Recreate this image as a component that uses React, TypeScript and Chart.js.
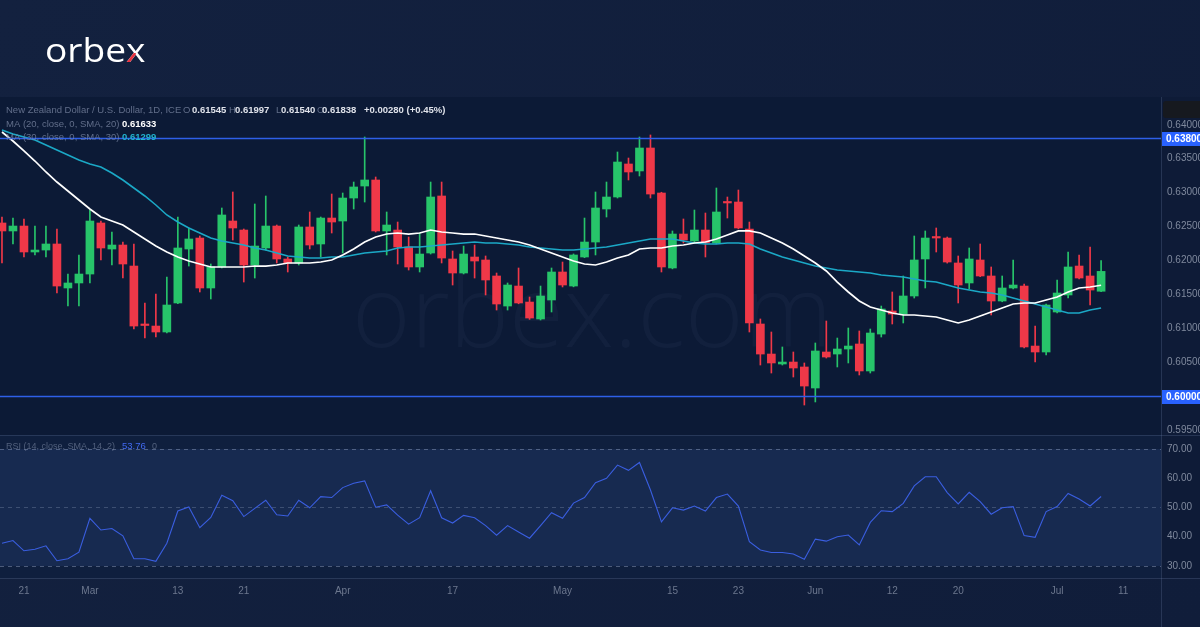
import React, { useEffect, useRef } from "react";
import { Chart, registerables } from "chart.js";

Chart.register(...registerables);

// ---------- DATA (NZD/USD daily, ~17 Feb – 7 Jul 2023) ----------
const opens = [
  0.62552, 0.62434, 0.62507, 0.62124, 0.62153, 0.62242, 0.61593, 0.61667, 0.61799, 0.62552,
  0.62168, 0.62227, 0.61917, 0.61062, 0.61032, 0.60944, 0.61372, 0.62168, 0.6233, 0.61593,
  0.61903, 0.62581, 0.62448, 0.61932, 0.62183, 0.62507, 0.62021, 0.61962, 0.62493, 0.62242,
  0.62625, 0.62581, 0.6292, 0.63097, 0.63186, 0.62434, 0.62448, 0.62198, 0.61903, 0.62109,
  0.6295, 0.62021, 0.61814, 0.6205, 0.62006, 0.6177, 0.61327, 0.61622, 0.61386, 0.61136,
  0.61416, 0.61829, 0.61622, 0.6205, 0.62271, 0.62758, 0.62935, 0.63422, 0.63319, 0.63658,
  0.62994, 0.61888, 0.62389, 0.62286, 0.62448, 0.62257, 0.62861, 0.62861, 0.62463, 0.61062,
  0.60619, 0.60472, 0.60501, 0.60428, 0.60118, 0.60649, 0.60619, 0.60693, 0.60767, 0.60369,
  0.60914, 0.61254, 0.61209, 0.61475, 0.62021, 0.62345, 0.6233, 0.61962, 0.61667, 0.62006,
  0.6177, 0.61401, 0.61593, 0.61622, 0.60737, 0.60649, 0.61239, 0.6149, 0.61917, 0.6177,
  0.61545,
];
const highs = [
  0.6264, 0.62625, 0.62611, 0.62507, 0.62507, 0.62463, 0.61799, 0.6208, 0.62743, 0.62581,
  0.62419, 0.62271, 0.62242, 0.61372, 0.61504, 0.61755, 0.6264, 0.62478, 0.6236, 0.61947,
  0.62773, 0.63009, 0.62463, 0.62832, 0.6295, 0.62522, 0.6205, 0.62522, 0.62714, 0.6264,
  0.62979, 0.62994, 0.63156, 0.6382, 0.6323, 0.62714, 0.62566, 0.62345, 0.62404, 0.63156,
  0.63156, 0.62139, 0.62212, 0.62227, 0.62065, 0.61814, 0.61667, 0.61888, 0.6146, 0.61622,
  0.61888, 0.61976, 0.62095, 0.62625, 0.63009, 0.63156, 0.63599, 0.6351, 0.6382, 0.6385,
  0.63005, 0.62434, 0.62611, 0.62743, 0.62699, 0.63068, 0.62935, 0.63038, 0.62566, 0.61136,
  0.60944, 0.60723, 0.60649, 0.60487, 0.60782, 0.61106, 0.60855, 0.61003, 0.60959, 0.60988,
  0.61327, 0.61534, 0.6177, 0.6236, 0.62434, 0.62478, 0.62345, 0.62065, 0.62183, 0.62242,
  0.61903, 0.6177, 0.62006, 0.61652, 0.61032, 0.61355, 0.61711, 0.62124, 0.6208, 0.62198,
  0.61997,
];
const lows = [
  0.61962, 0.62242, 0.6205, 0.6208, 0.6205, 0.61519, 0.61327, 0.61327, 0.61667, 0.62006,
  0.61932, 0.6174, 0.60988, 0.60855, 0.6087, 0.60929, 0.6136, 0.61917, 0.61534, 0.61431,
  0.61888, 0.62301, 0.61681, 0.6174, 0.62153, 0.61962, 0.61829, 0.61932, 0.62168, 0.6205,
  0.62404, 0.62109, 0.62758, 0.62861, 0.62419, 0.6208, 0.61947, 0.61858, 0.61829, 0.62094,
  0.61962, 0.61637, 0.618, 0.6174, 0.6149, 0.61268, 0.61268, 0.6136, 0.6113, 0.61121,
  0.61239, 0.61608, 0.6161, 0.6204, 0.6208, 0.6264, 0.6292, 0.63186, 0.63245, 0.6292,
  0.61829, 0.61875, 0.62257, 0.62257, 0.6205, 0.62245, 0.62625, 0.62465, 0.60944, 0.60457,
  0.60339, 0.60457, 0.6028, 0.59867, 0.59912, 0.6056, 0.60428, 0.60487, 0.6031, 0.60339,
  0.6087, 0.61062, 0.61077, 0.61445, 0.61593, 0.62124, 0.6196, 0.61372, 0.61578, 0.6176,
  0.61195, 0.6139, 0.6158, 0.60708, 0.60501, 0.60605, 0.61225, 0.61445, 0.61725, 0.61342,
  0.6154,
];
const closes = [
  0.62434, 0.62507, 0.62124, 0.62153, 0.62242, 0.61622, 0.61667, 0.61799, 0.62581, 0.62183,
  0.62227, 0.61947, 0.61032, 0.6104, 0.60944, 0.61342, 0.62183, 0.62316, 0.61593, 0.61903,
  0.6267, 0.62478, 0.61932, 0.62212, 0.62507, 0.62021, 0.61962, 0.62493, 0.62227, 0.62625,
  0.62566, 0.6292, 0.63083, 0.63186, 0.62434, 0.62522, 0.62198, 0.61903, 0.62094, 0.62935,
  0.62035, 0.61814, 0.62094, 0.61991, 0.61711, 0.61357, 0.61637, 0.61372, 0.6115, 0.61475,
  0.61829, 0.61637, 0.6208, 0.62271, 0.62773, 0.62935, 0.63451, 0.63304, 0.63658, 0.62979,
  0.61903, 0.62389, 0.62301, 0.62448, 0.62257, 0.62714, 0.62847, 0.62478, 0.61077, 0.60619,
  0.60487, 0.60501, 0.60413, 0.60147, 0.60664, 0.60575, 0.60693, 0.60737, 0.60369, 0.60929,
  0.61283, 0.61209, 0.61475, 0.62006, 0.6233, 0.6233, 0.61976, 0.61637, 0.62021, 0.6177,
  0.61401, 0.61593, 0.61637, 0.60723, 0.60649, 0.61342, 0.61519, 0.61903, 0.6174, 0.61563,
  0.61838,
];
const ma20 = [
  0.63894, 0.63761, 0.63614, 0.63466, 0.63304, 0.63156, 0.63024, 0.62891, 0.62758, 0.6264,
  0.62581, 0.62522, 0.62419, 0.62316, 0.62212, 0.62124, 0.6205, 0.61991, 0.61947, 0.61903,
  0.61903, 0.61903, 0.61903, 0.61917, 0.61917, 0.61932, 0.61962, 0.61962, 0.61962, 0.61976,
  0.62006, 0.6208, 0.62168, 0.62271, 0.62345, 0.62389, 0.62404, 0.62389, 0.62404, 0.62448,
  0.62419, 0.62404, 0.62389, 0.62389, 0.6236, 0.6233, 0.62301, 0.62271, 0.62227, 0.62168,
  0.62109, 0.6205, 0.61991, 0.61947, 0.61932, 0.61976, 0.62035, 0.6208, 0.62168, 0.62183,
  0.62183, 0.62212, 0.62227, 0.62257, 0.62271, 0.62316, 0.62375, 0.62434, 0.62434, 0.62404,
  0.6233, 0.62257, 0.62168, 0.62065, 0.61962, 0.61844, 0.61681, 0.61534, 0.61401, 0.61313,
  0.61268, 0.61224, 0.61195, 0.61195, 0.6118, 0.61165, 0.61121, 0.61077, 0.61121, 0.6118,
  0.61239, 0.61298, 0.61357, 0.61372, 0.61372, 0.61416, 0.6146, 0.61534, 0.61593, 0.61608,
  0.61633,
];
const ma30 = [
  0.63923, 0.63864, 0.6382, 0.63776, 0.63702, 0.63628, 0.63554, 0.63481, 0.63422, 0.63378,
  0.63289, 0.63186, 0.63068, 0.6295, 0.62817, 0.6267, 0.62566, 0.62478, 0.62404, 0.6233,
  0.62286, 0.62257, 0.62227, 0.62183, 0.62153, 0.62109, 0.62065, 0.6205, 0.62035, 0.62035,
  0.6205, 0.6205, 0.6208, 0.62109, 0.62124, 0.62139, 0.62183, 0.62198, 0.62198, 0.62212,
  0.62227, 0.62242, 0.62257, 0.62271, 0.62257, 0.62257, 0.62242, 0.62227, 0.62198, 0.62183,
  0.62168, 0.62153, 0.62153, 0.62168, 0.62183, 0.62198, 0.62227, 0.62257, 0.62286, 0.62316,
  0.62316, 0.62316, 0.62286, 0.62257, 0.62242, 0.62242, 0.62257, 0.62257, 0.62242, 0.62168,
  0.62109, 0.6205, 0.62006, 0.61962, 0.61917, 0.61888, 0.61858, 0.61844, 0.61829, 0.61814,
  0.61785, 0.6177, 0.61755, 0.61726, 0.61696, 0.61681, 0.61637, 0.61593, 0.61563, 0.61534,
  0.61519, 0.6149, 0.61445, 0.61401, 0.61357, 0.61313, 0.61268, 0.61224, 0.61224, 0.61268,
  0.61299,
];
const rsi = [
  37.8, 38.7, 35.2, 35.7, 36.9, 31.8, 32.5, 34.7, 46.3, 42.3,
  42.8, 40.3, 32.5, 32.5, 31.6, 37.8, 48.8, 50.2, 43.1, 46.6,
  54.2, 52.3, 46.9, 49.7, 52.5, 47.5, 47.1, 52.5, 49.9, 53.7,
  53.4, 56.8, 58.3, 59.1, 50.1, 50.9, 47.4, 44.3, 46.5, 55.7,
  46.5, 44.7, 47.3, 46.5, 43.8, 40.5, 43.8, 41.6, 39.5, 43.8,
  48.2, 46.3, 51.5, 53.4, 58.5, 60.0, 64.5, 62.7, 65.4, 56.0,
  45.1, 49.9, 49.1, 50.5, 48.8, 53.4, 54.6, 50.5, 38.3, 35.5,
  34.6, 34.6, 34.1, 32.3, 39.2, 38.5, 40.0, 40.6, 37.2, 44.9,
  48.9, 48.6, 51.4, 57.4, 60.5, 60.5, 55.1, 51.2, 55.2, 52.0,
  47.7, 49.9, 50.3, 40.4, 39.8, 48.6, 50.3, 54.8, 52.9, 50.5,
  53.76,
];
const levelValues = [0.638, 0.6];
const priceTicks = [0.595, 0.6, 0.605, 0.61, 0.615, 0.62, 0.625, 0.63, 0.635, 0.64];
const rsiTicks = [30, 40, 50, 60, 70];
const rsiGuides = [70, 50, 30];
const timeTickIdx = [2, 8, 16, 22, 31, 41, 51, 61, 67, 74, 81, 87, 96, 102];
const timeTickLabels = ["21", "Mar", "13", "21", "Apr", "17", "May", "15", "23", "Jun", "12", "20", "Jul", "11"];

const headerTitle = "New Zealand Dollar / U.S. Dollar, 1D, ICE";
const headerChange = "+0.00280 (+0.45%)";
const ma20Label = "MA (20, close, 0, SMA, 20)";
const ma30Label = "MA (30, close, 0, SMA, 30)";
const rsiLabel = "RSI (14, close, SMA, 14, 2)";

// ---------- STYLE ----------
const GREEN = "#27c46a";
const RED = "#ef3848";
const FONT = '"Liberation Sans", Arial, sans-serif';
const LOGO_FONT = '"Open Sans", "Noto Sans", sans-serif';

const bgPlugin = {
  id: "bgPanes",
  beforeDraw(chart: any) {
    const { ctx, chartArea, scales } = chart;
    const { y, y2 } = scales;
    const W = chart.width;
    const H = chart.height;
    ctx.save();
    const g = ctx.createLinearGradient(0, 0, W, H);
    g.addColorStop(0, "#13213f");
    g.addColorStop(1, "#101d3a");
    ctx.fillStyle = g;
    ctx.fillRect(0, 0, W, H);
    // price pane
    ctx.fillStyle = "#0c1a36";
    ctx.fillRect(chartArea.left, y.top, chartArea.right - chartArea.left, y.bottom - y.top);
    // rsi pane
    ctx.fillStyle = "#0f1f3e";
    ctx.fillRect(chartArea.left, y2.top, chartArea.right - chartArea.left, y2.bottom - y2.top);
    const p70 = y2.getPixelForValue(70);
    const p30 = y2.getPixelForValue(30);
    ctx.fillStyle = "#172a50";
    ctx.fillRect(chartArea.left, p70, chartArea.right - chartArea.left, p30 - p70);
    // right axis column
    ctx.fillStyle = "#0e1b37";
    ctx.fillRect(chartArea.right, y.top, W - chartArea.right, y2.bottom - y.top);
    // dark box at top of price scale
    ctx.fillStyle = "#16191f";
    ctx.beginPath();
    (ctx as any).roundRect(chartArea.right + 2, y.top + 4, W - chartArea.right, 17, 3);
    ctx.fill();
    // separators
    ctx.strokeStyle = "rgba(110,130,170,0.25)";
    ctx.lineWidth = 1;
    ctx.beginPath();
    ctx.moveTo(0, Math.round(y.bottom) + 0.5);
    ctx.lineTo(W, Math.round(y.bottom) + 0.5);
    ctx.moveTo(0, Math.round(y2.bottom) + 0.5);
    ctx.lineTo(W, Math.round(y2.bottom) + 0.5);
    ctx.moveTo(Math.round(chartArea.right) + 0.5, y.top);
    ctx.lineTo(Math.round(chartArea.right) + 0.5, H);
    ctx.stroke();
    // logo
    ctx.save();
    ctx.translate(45, 62);
    ctx.scale(1.16, 1);
    ctx.font = `400 32px ${LOGO_FONT}`;
    ctx.textBaseline = "alphabetic";
    ctx.textAlign = "left";
    ctx.fillStyle = "#ffffff";
    ctx.fillText("orbe", 0, 0);
    const wOrbe = ctx.measureText("orbe").width;
    const xw = ctx.measureText("x").width;
    ctx.fillText("x", wOrbe, 0);
    ctx.beginPath();
    ctx.rect(wOrbe - 2, -9, xw / 2 + 2, 12);
    ctx.clip();
    ctx.fillStyle = "#e8323f";
    ctx.fillText("x", wOrbe, 0);
    ctx.restore();
    ctx.restore();
  },
  beforeDatasetsDraw(chart: any) {
    const { ctx, chartArea, scales } = chart;
    const { y, y2 } = scales;
    ctx.save();
    ctx.beginPath();
    ctx.rect(chartArea.left, y.top, chartArea.right - chartArea.left, y.bottom - y.top);
    ctx.clip();
    ctx.font = `300 100px ${LOGO_FONT}`;
    ctx.fillStyle = "rgba(160,180,230,0.045)";
    ctx.textBaseline = "alphabetic";
    ctx.fillText("orbex.com", 352, 347);
    ctx.restore();
    ctx.save();
    ctx.setLineDash([4, 4]);
    ctx.lineWidth = 1;
    rsiGuides.forEach((v) => {
      const py = Math.round(y2.getPixelForValue(v)) + 0.5;
      ctx.strokeStyle = v === 50 ? "rgba(150,165,195,0.30)" : "rgba(150,165,195,0.45)";
      ctx.beginPath();
      ctx.moveTo(chartArea.left, py);
      ctx.lineTo(chartArea.right, py);
      ctx.stroke();
    });
    ctx.restore();
  },
  afterDatasetsDraw(chart: any) {
    const { ctx, chartArea, scales } = chart;
    const { y } = scales;
    const W = chart.width;
    ctx.save();
    levelValues.forEach((v) => {
      const py = Math.round(y.getPixelForValue(v));
      ctx.strokeStyle = "#2e5fe8";
      ctx.lineWidth = 1.5;
      ctx.beginPath();
      ctx.moveTo(chartArea.left, py + 0.5);
      ctx.lineTo(chartArea.right, py + 0.5);
      ctx.stroke();
      ctx.fillStyle = "#2962ff";
      ctx.fillRect(chartArea.right + 1, py - 6, W - chartArea.right, 14);
      ctx.fillStyle = "#ffffff";
      ctx.font = `bold 10px ${FONT}`;
      ctx.textBaseline = "middle";
      ctx.textAlign = "left";
      ctx.fillText(v.toFixed(5), chartArea.right + 5, py + 1);
    });
    // header legend text
    ctx.textBaseline = "middle";
    ctx.textAlign = "left";
    const gray = "rgba(125,138,165,0.75)";
    const val = "#dfe2ea";
    const put = (t: string, x: number, yy: number, color: string, bold = false, size = 9.5) => {
      ctx.font = `${bold ? "bold " : ""}${size}px ${FONT}`;
      ctx.fillStyle = color;
      ctx.fillText(t, x, yy);
    };
    const last = closes.length - 1;
    put(headerTitle, 6, 110.5, gray);
    put("O", 183, 110.5, gray);
    put(opens[last].toFixed(5), 192, 110.5, val, true);
    put("H", 229, 110.5, gray);
    put(highs[last].toFixed(5), 235, 110.5, val, true);
    put("L", 276, 110.5, gray);
    put(lows[last].toFixed(5), 281, 110.5, val, true);
    put("C", 317, 110.5, gray);
    put(closes[last].toFixed(5), 322, 110.5, val, true);
    put(headerChange, 364, 110.5, val, true);
    put(ma20Label, 6, 124, gray);
    put(ma20[last].toFixed(5), 122, 124, "#ffffff", true);
    put(ma30Label, 6, 137.5, gray);
    put(ma30[last].toFixed(5), 122, 137.5, "#22b3cf", true);
    put(rsiLabel, 6, 446.5, "rgba(125,138,165,0.6)", false, 9);
    put(rsi[last].toFixed(2), 122, 446.5, "#4169f0", false, 9.5);
    put("0", 152, 446.5, "rgba(125,138,165,0.6)", false, 9);
    ctx.restore();
  },
};

export default function App() {
  const ref = useRef<HTMLCanvasElement | null>(null);
  useEffect(() => {
    if (!ref.current) return;
    const colors = closes.map((c, i) => (c >= opens[i] ? GREEN : RED));
    const chart = new Chart(ref.current, {
      type: "bar",
      data: {
        datasets: [
          {
            type: "line",
            label: "MA20",
            data: ma20.map((v, i) => ({ x: i, y: v })),
            borderColor: "#ffffff",
            borderWidth: 1.7,
            pointRadius: 0,
            tension: 0,
            xAxisID: "x",
            yAxisID: "y",
            order: 0,
          },
          {
            type: "line",
            label: "MA30",
            data: ma30.map((v, i) => ({ x: i, y: v })),
            borderColor: "#1ba8c6",
            borderWidth: 1.6,
            pointRadius: 0,
            tension: 0,
            xAxisID: "x",
            yAxisID: "y",
            order: 1,
          },
          {
            type: "bar",
            label: "body",
            data: opens.map((o, i) => ({ x: i, y: [o, closes[i]] })),
            backgroundColor: colors,
            borderWidth: 0,
            barThickness: 8,
            minBarLength: 1.5,
            grouped: false,
            xAxisID: "x",
            yAxisID: "y",
            order: 2,
          },
          {
            type: "bar",
            label: "wick",
            data: lows.map((l, i) => ({ x: i, y: [l, highs[i]] })),
            backgroundColor: colors,
            borderWidth: 0,
            barThickness: 1,
            grouped: false,
            xAxisID: "x",
            yAxisID: "y",
            order: 3,
          },
          {
            type: "line",
            label: "RSI",
            data: rsi.map((v, i) => ({ x: i, y: v })),
            borderColor: "#3a5ee0",
            borderWidth: 1.1,
            pointRadius: 0,
            tension: 0,
            xAxisID: "x",
            yAxisID: "y2",
            order: 0,
          },
        ] as any,
      },
      options: {
        animation: false,
        responsive: false,
        devicePixelRatio: 1,
        layout: { padding: { top: 97, left: 0, right: 0, bottom: 0 } },
        plugins: { legend: { display: false }, tooltip: { enabled: false } },
        scales: {
          x: {
            type: "linear",
            position: "bottom",
            offset: false,
            min: -0.18,
            max: 105.45,
            grid: { display: false, drawTicks: false, offset: false },
            border: { display: false },
            afterBuildTicks: (s: any) => {
              s.ticks = timeTickIdx.map((v) => ({ value: v }));
            },
            afterFit: (s: any) => {
              s.height = 49;
            },
            ticks: {
              autoSkip: false,
              maxRotation: 0,
              padding: 7,
              color: "#6c778e",
              font: { size: 10, family: FONT },
              callback: (_v: any, i: number) => timeTickLabels[i],
            },
          },
          y: {
            type: "linear",
            position: "right",
            stack: "panes",
            stackWeight: 338,
            min: 0.594248,
            max: 0.6441,
            grid: { display: false, drawTicks: false },
            border: { display: false },
            afterBuildTicks: (s: any) => {
              s.ticks = priceTicks.map((v) => ({ value: v }));
            },
            afterFit: (s: any) => {
              s.width = 39;
            },
            ticks: {
              padding: 6,
              color: "#7f899d",
              font: { size: 10, family: FONT },
              callback: (v: any) => Number(v).toFixed(5),
            },
          },
          y2: {
            type: "linear",
            position: "right",
            stack: "panes",
            stackWeight: 143,
            min: 25.897,
            max: 74.786,
            grid: { display: false, drawTicks: false },
            border: { display: false },
            afterBuildTicks: (s: any) => {
              s.ticks = rsiTicks.map((v) => ({ value: v }));
            },
            afterFit: (s: any) => {
              s.width = 39;
            },
            ticks: {
              padding: 6,
              color: "#7f899d",
              font: { size: 10, family: FONT },
              callback: (v: any) => Number(v).toFixed(2),
            },
          },
        },
      } as any,
      plugins: [bgPlugin],
    });
    return () => chart.destroy();
  }, []);
  return (
    <div style={{ position: "fixed", left: 0, top: 0, width: 1200, height: 627, overflow: "hidden" }}>
      <canvas ref={ref} width={1200} height={627} style={{ width: 1200, height: 627, display: "block" }} />
    </div>
  );
}
